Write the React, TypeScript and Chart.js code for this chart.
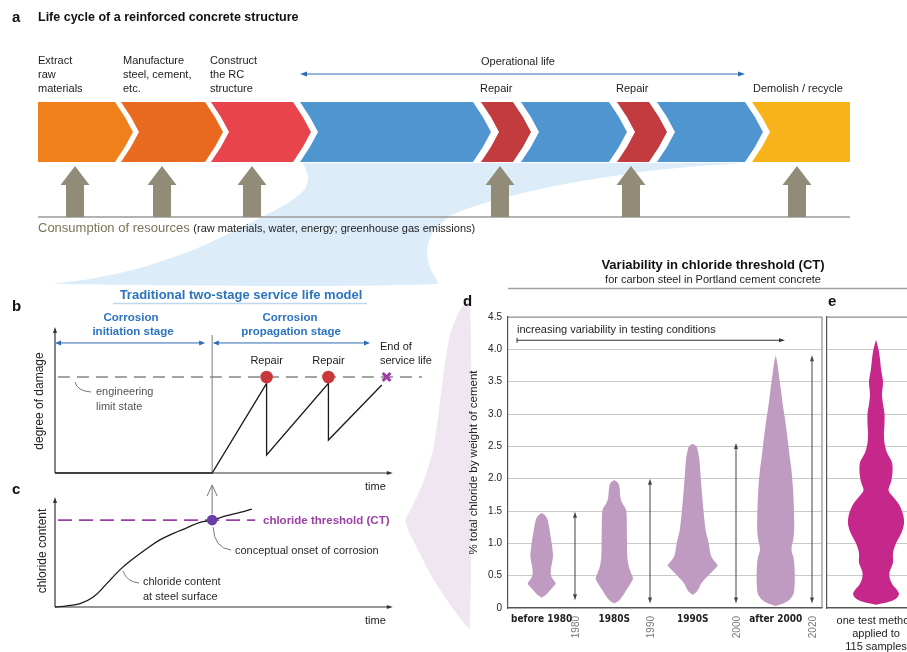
import React, { useEffect, useRef } from "react";
import { Chart, registerables } from "chart.js";

Chart.register(...registerables);

// ======================= DATA =======================
// Panel a – life-cycle stages along the life-cycle axis
const stageStart = [0, 83, 173, 262, 443, 483, 579, 619, 714];
const stageEnd = [77, 167, 255, 435, 475, 571, 611, 707, 812];
const stageColors = ["#f0801a", "#e9691f", "#e8444b", "#4f96d1", "#c23b3e", "#4f96d1", "#c23b3e", "#4f96d1", "#f8b31a"];
const resourceArrowAt = [37, 124, 214, 462, 593, 759];
const operationalLife = [262, 707];

// Panel b – two-stage service-life model
const damageTime = [0, 4.27, 5.75, 5.75, 7.43, 7.43, 8.88];
const damageLevel = [0, 0, 0.623, 0.125, 0.623, 0.229, 0.611];
const limitState = 0.667;
const repairTimes = [5.75, 7.43];
const endOfLife = 9.01;
const initiationEnd = 4.27;

// Panel c – chloride content at steel surface
const chlorideTime = [0, 0.32, 0.68, 1.04, 1.4, 1.77, 2.13, 2.49, 2.85, 3.22, 3.58, 3.94, 4.27, 4.67, 5.03, 5.35];
const chlorideLevel = [0, 0.01, 0.03, 0.09, 0.21, 0.34, 0.44, 0.53, 0.61, 0.67, 0.72, 0.77, 0.79, 0.83, 0.86, 0.89];
const chlorideThreshold = 0.79;

// Panel d – violins of chloride threshold by period
const periods = ["before 1980", "1980S", "1990S", "after 2000"];
const periodCenter = [3.37, 10.63, 18.47, 26.77];
const yearLabels = ["1980", "1990", "2000", "2020"];
const yearAt = [6.7, 14.2, 22.8, 30.4];
const rangeMax = [1.49, 2.0, 2.55, 3.91];
const rangeMin = [0.12, 0.07, 0.07, 0.07];

const v1980Levels = [0.16, 0.2, 0.26, 0.33, 0.38, 0.43, 0.5, 0.6, 0.8, 1.0, 1.1, 1.26, 1.38, 1.44, 1.47];
const v1980Widths = [0, 0.4, 0.75, 1.15, 1.4, 1.2, 0.93, 0.92, 1.13, 1.0, 0.9, 0.73, 0.55, 0.3, 0];
const v1980sLevels = [0.07, 0.12, 0.2, 0.3, 0.4, 0.46, 0.53, 0.64, 0.8, 1.05, 1.3, 1.5, 1.56, 1.62, 1.7, 1.85, 1.93, 1.98];
const v1980sWidths = [0, 0.5, 0.9, 1.3, 1.7, 1.87, 1.7, 1.45, 1.3, 1.27, 1.25, 1.2, 1.05, 0.8, 0.62, 0.53, 0.4, 0];
const v1990sLevels = [0.2, 0.25, 0.3, 0.39, 0.46, 0.54, 0.62, 0.66, 0.72, 0.8, 0.9, 1.0, 1.1, 1.2, 1.47, 1.88, 2.29, 2.44, 2.5, 2.54];
const v1990sWidths = [0, 0.4, 0.6, 0.9, 1.3, 1.8, 2.3, 2.5, 2.2, 1.85, 1.7, 1.6, 1.45, 1.3, 1.1, 0.87, 0.67, 0.5, 0.35, 0];
const v2000Levels = [0.03, 0.08, 0.14, 0.23, 0.4, 0.55, 0.7, 0.8, 0.87, 0.95, 1.05, 1.2, 1.5, 1.8, 2.1, 2.4, 2.6, 2.9, 3.1, 3.4, 3.63, 3.8, 3.91];
const v2000Widths = [0, 0.9, 1.45, 1.8, 1.9, 1.9, 1.85, 1.75, 1.6, 1.6, 1.75, 1.85, 1.83, 1.75, 1.6, 1.35, 1.2, 0.95, 0.75, 0.5, 0.3, 0.15, 0];

// Panel e – one test method, 115 samples
const oneMethodCenter = 4.9;
const oneMethodLevels = [0.05, 0.1, 0.16, 0.22, 0.28, 0.35, 0.45, 0.55, 0.7, 0.85, 1.0, 1.15, 1.3, 1.45, 1.6, 1.72, 1.82, 1.95, 2.1, 2.25, 2.4, 2.55, 2.7, 2.85, 3.0, 3.15, 3.3, 3.5, 3.7, 3.85, 4.0, 4.15];
const oneMethodWidths = [0, 1.4, 2.1, 2.3, 2.1, 1.7, 1.4, 1.35, 1.7, 1.7, 2.0, 2.5, 2.8, 2.7, 2.3, 1.7, 1.25, 1.5, 1.65, 1.6, 1.1, 0.85, 0.8, 0.85, 0.85, 0.7, 0.6, 0.7, 0.5, 0.4, 0.25, 0];

// ======================= LAYOUT / STYLE =======================
const W = 907;
const H = 652;
const FONT = '"Liberation Sans", Arial, Helvetica, sans-serif';
const NARROW = '"Liberation Sans Narrow", "DejaVu Sans Condensed", "Liberation Sans", sans-serif';
const BLUE = "#2c74c0";
const PURPLE = "#9b3fa6";

type Pt = { x: number; y: number };

function txt(
  ctx: CanvasRenderingContext2D,
  s: string,
  x: number,
  y: number,
  o: { size?: number; bold?: boolean; color?: string; align?: CanvasTextAlign; font?: string; rotate?: number } = {}
) {
  ctx.save();
  ctx.font = `${o.bold ? "bold " : ""}${o.size ?? 11}px ${o.font ?? FONT}`;
  ctx.fillStyle = o.color ?? "#222";
  ctx.textAlign = o.align ?? "left";
  ctx.textBaseline = "middle";
  ctx.translate(x, y);
  if (o.rotate) ctx.rotate(o.rotate);
  ctx.fillText(s, 0, 0);
  ctx.restore();
}

function seg(ctx: CanvasRenderingContext2D, x1: number, y1: number, x2: number, y2: number, color: string, w = 1) {
  ctx.save();
  ctx.strokeStyle = color;
  ctx.lineWidth = w;
  ctx.beginPath();
  ctx.moveTo(x1, y1);
  ctx.lineTo(x2, y2);
  ctx.stroke();
  ctx.restore();
}

function head(ctx: CanvasRenderingContext2D, x: number, y: number, ang: number, color: string, len = 6, half = 2.5) {
  ctx.save();
  ctx.translate(x, y);
  ctx.rotate(ang);
  ctx.beginPath();
  ctx.moveTo(0, 0);
  ctx.lineTo(-len, -half);
  ctx.lineTo(-len, half);
  ctx.closePath();
  ctx.fillStyle = color;
  ctx.fill();
  ctx.restore();
}

function leader(ctx: CanvasRenderingContext2D, x1: number, y1: number, cx: number, cy: number, x2: number, y2: number) {
  ctx.save();
  ctx.strokeStyle = "#777";
  ctx.lineWidth = 1;
  ctx.beginPath();
  ctx.moveTo(x1, y1);
  ctx.quadraticCurveTo(cx, cy, x2, y2);
  ctx.stroke();
  ctx.restore();
}

const shape = (pts: Pt[], color: string, extra: any = {}) => ({
  data: pts,
  showLine: true,
  fill: "shape",
  backgroundColor: color,
  borderColor: color,
  borderWidth: 0,
  pointRadius: 0,
  tension: 0,
  ...extra,
});

const hidden = (min: number, max: number, reverse = false) => ({ type: "linear", min, max, reverse, display: false });

function baseOptions(padding: any, scales: any) {
  return {
    responsive: false,
    animation: false,
    devicePixelRatio: 1,
    events: [],
    layout: { padding },
    plugins: { legend: { display: false }, tooltip: { enabled: false }, title: { display: false } },
    scales,
  };
}

function violin(center: number, levels: number[], widths: number[]): Pt[] {
  const right = levels.map((y, i) => ({ x: center + widths[i], y }));
  const left = levels.map((y, i) => ({ x: center - widths[i], y })).reverse();
  return [...right, ...left];
}

// ======================= CHART CONFIGS =======================
function fanConfig() {
  const blueFan: Pt[] = [
    { x: 303, y: 163 }, { x: 308, y: 176 }, { x: 305, y: 189 }, { x: 288, y: 203 }, { x: 252, y: 222 },
    { x: 198, y: 248 }, { x: 140, y: 268 }, { x: 90, y: 279 }, { x: 55, y: 284 }, { x: 437, y: 284 },
    { x: 430, y: 268 }, { x: 427, y: 250 }, { x: 433, y: 232 }, { x: 452, y: 215 }, { x: 495, y: 200 },
    { x: 560, y: 185 }, { x: 640, y: 172 }, { x: 700, y: 166 }, { x: 745, y: 163 },
  ];
  const lavFan: Pt[] = [
    { x: 405, y: 520 }, { x: 413, y: 505 }, { x: 424, y: 480 }, { x: 433, y: 450 }, { x: 439, y: 410 },
    { x: 444, y: 370 }, { x: 450, y: 335 }, { x: 460, y: 310 }, { x: 470, y: 298 }, { x: 470, y: 628 },
    { x: 460, y: 618 }, { x: 447, y: 600 }, { x: 432, y: 577 }, { x: 418, y: 550 }, { x: 409, y: 532 },
  ];
  return {
    type: "scatter",
    data: { datasets: [shape(blueFan, "#dcecf8", { tension: 0.25 }), shape(lavFan, "#efe6f1", { tension: 0.25 })] },
    options: baseOptions(0, { x: hidden(0, W), y: hidden(0, H, true) }),
  };
}

function lifeCycleConfig() {
  const TOP = 115, BOT = 55, MID = 85, D = 18, B = 0.55;
  const datasets: any[] = stageStart.map((L, i) => {
    const R = stageEnd[i];
    const last = i === stageStart.length - 1;
    const pts: Pt[] = [{ x: L, y: TOP }, { x: R, y: TOP }];
    if (!last) pts.push({ x: R + D * B, y: 100 }, { x: R + D, y: MID }, { x: R + D * B, y: 70 });
    pts.push({ x: R, y: BOT }, { x: L, y: BOT });
    if (i > 0) pts.push({ x: L + D * B, y: 70 }, { x: L + D, y: MID }, { x: L + D * B, y: 100 });
    return shape(pts, stageColors[i]);
  });
  resourceArrowAt.forEach((c) => {
    datasets.push(
      shape(
        [
          { x: c, y: 51 }, { x: c + 14.5, y: 32 }, { x: c + 9, y: 32 }, { x: c + 9, y: 0 },
          { x: c - 9, y: 0 }, { x: c - 9, y: 32 }, { x: c - 14.5, y: 32 },
        ],
        "#928b77"
      )
    );
  });
  datasets.push({
    data: [{ x: 0, y: 0 }, { x: 812, y: 0 }],
    showLine: true, borderColor: "#9a9a9a", borderWidth: 1.6, pointRadius: 0, clip: false,
  });
  return {
    type: "scatter",
    data: { datasets },
    options: baseOptions({ left: 38, right: W - 850, top: 102, bottom: H - 217 }, { x: hidden(0, 812), y: hidden(0, 115) }),
    plugins: [
      {
        id: "annotA",
        afterDraw(chart: any) {
          const { ctx } = chart;
          const x = chart.scales.x;
          txt(ctx, "a", 12, 18, { size: 15, bold: true, color: "#111" });
          txt(ctx, "Life cycle of a reinforced concrete structure", 38, 18, { size: 12.5, bold: true, color: "#111" });
          const lab = (lines: string[], px: number) =>
            lines.forEach((l, k) => txt(ctx, l, px, 61 + k * 14, { size: 11, color: "#1c1c1c" }));
          lab(["Extract", "raw", "materials"], 38);
          lab(["Manufacture", "steel, cement,", "etc."], 123);
          lab(["Construct", "the RC", "structure"], 210);
          txt(ctx, "Operational life", 481, 62, { size: 11, color: "#1c1c1c" });
          txt(ctx, "Repair", 480, 89, { size: 11, color: "#1c1c1c" });
          txt(ctx, "Repair", 616, 89, { size: 11, color: "#1c1c1c" });
          txt(ctx, "Demolish / recycle", 753, 89, { size: 11, color: "#1c1c1c" });
          const x1 = x.getPixelForValue(operationalLife[0]);
          const x2 = x.getPixelForValue(operationalLife[1]);
          seg(ctx, x1 + 3, 74, x2 - 3, 74, "#2e6cb4", 1);
          head(ctx, x1, 74, Math.PI, "#2e6cb4", 7, 2.5);
          head(ctx, x2, 74, 0, "#2e6cb4", 7, 2.5);
          ctx.save();
          ctx.font = `13px ${FONT}`;
          const w1 = ctx.measureText("Consumption of resources ").width;
          ctx.restore();
          txt(ctx, "Consumption of resources", 38, 228, { size: 13, color: "#7a7357" });
          txt(ctx, "(raw materials, water, energy; greenhouse gas emissions)", 38 + w1, 229, { size: 11, color: "#1c1c1c" });
        },
      },
    ],
  };
}

function panelBConfig() {
  const TIME_AXIS_END = 9.18;
  return {
    type: "scatter",
    data: {
      datasets: [
        { data: repairTimes.map((t) => ({ x: t, y: limitState })), pointRadius: 6.3, pointBackgroundColor: "#c9383a", pointBorderWidth: 0, showLine: false, order: 0 },
        { data: [{ x: endOfLife, y: limitState }], pointStyle: "crossRot", pointRadius: 5.5, pointBorderColor: PURPLE, pointBorderWidth: 3, showLine: false, order: 0 },
        { data: damageTime.map((t, i) => ({ x: t, y: damageLevel[i] })), showLine: true, borderColor: "#1a1a1a", borderWidth: 1.3, pointRadius: 0, tension: 0, order: 1, clip: false },
        { data: [{ x: 0.08, y: limitState }, { x: 9.97, y: limitState }], showLine: true, borderColor: "#858585", borderWidth: 1.5, borderDash: [12, 7], pointRadius: 0, order: 2, clip: false },
        { data: [{ x: initiationEnd, y: 0 }, { x: initiationEnd, y: 0.958 }], showLine: true, borderColor: "#7a7a7a", borderWidth: 1, pointRadius: 0, order: 2 },
      ],
    },
    options: baseOptions({ left: 55, right: W - 423, top: 329, bottom: H - 473 }, { x: hidden(0, 10), y: hidden(0, 1) }),
    plugins: [
      {
        id: "annotB",
        afterDraw(chart: any) {
          const { ctx } = chart;
          const { x, y } = chart.scales;
          const x0 = x.getPixelForValue(0), y0 = y.getPixelForValue(0);
          // axes
          seg(ctx, x0, y0, x0, y.getPixelForValue(1) + 4, "#333", 1.2);
          head(ctx, x0, y.getPixelForValue(1) - 2, -Math.PI / 2, "#333", 6, 2);
          const xe = x.getPixelForValue(TIME_AXIS_END);
          seg(ctx, x0, y0, xe - 4, y0, "#333", 1.2);
          head(ctx, xe, y0, 0, "#333", 6, 2);
          txt(ctx, "time", 365, 487, { size: 11, color: "#222" });
          txt(ctx, "degree of damage", 40, 401, { size: 12, color: "#222", align: "center", rotate: -Math.PI / 2 });
          // headings
          txt(ctx, "Traditional two-stage service life model", 241, 295, { size: 13, bold: true, color: BLUE, align: "center" });
          seg(ctx, 113, 303.5, 367, 303.5, "#bcd7ee", 1.5);
          txt(ctx, "b", 12, 307, { size: 15, bold: true, color: "#111" });
          txt(ctx, "Corrosion", 131, 318, { size: 11.5, bold: true, color: BLUE, align: "center" });
          txt(ctx, "initiation stage", 133, 332, { size: 11.5, bold: true, color: BLUE, align: "center" });
          txt(ctx, "Corrosion", 290, 318, { size: 11.5, bold: true, color: BLUE, align: "center" });
          txt(ctx, "propagation stage", 291, 332, { size: 11.5, bold: true, color: BLUE, align: "center" });
          // stage arrows
          const ay = y.getPixelForValue(0.903);
          const stages = [[0, 4.08], [4.29, 8.56]];
          stages.forEach(([a, b]) => {
            const p1 = x.getPixelForValue(a), p2 = x.getPixelForValue(b);
            seg(ctx, p1 + 3, ay, p2 - 3, ay, "#2e6cb4", 1);
            head(ctx, p1, ay, Math.PI, "#2e6cb4", 6, 2.5);
            head(ctx, p2, ay, 0, "#2e6cb4", 6, 2.5);
          });
          // labels
          repairTimes.forEach((t) => txt(ctx, "Repair", x.getPixelForValue(t), 361, { size: 11, color: "#1c1c1c", align: "center" }));
          txt(ctx, "End of", 380, 347, { size: 11, color: "#1c1c1c" });
          txt(ctx, "service life", 380, 361, { size: 11, color: "#1c1c1c" });
          txt(ctx, "engineering", 96, 392, { size: 11, color: "#555" });
          txt(ctx, "limit state", 96, 407, { size: 11, color: "#555" });
          leader(ctx, 75, 382, 77, 391, 91, 392);
        },
      },
    ],
  };
}

function panelCConfig() {
  const TIME_AXIS_END = 9.18;
  return {
    type: "scatter",
    data: {
      datasets: [
        { data: [{ x: initiationEnd, y: chlorideThreshold }], pointRadius: 5.3, pointBackgroundColor: "#6a3ea6", pointBorderWidth: 0, showLine: false, order: 0 },
        { data: chlorideTime.map((t, i) => ({ x: t, y: chlorideLevel[i] })), showLine: true, borderColor: "#1a1a1a", borderWidth: 1.3, pointRadius: 0, tension: 0.4, order: 1, clip: false },
        { data: [{ x: 0.08, y: chlorideThreshold }, { x: 5.44, y: chlorideThreshold }], showLine: true, borderColor: PURPLE, borderWidth: 1.8, borderDash: [14, 7], pointRadius: 0, order: 2, clip: false },
      ],
    },
    options: baseOptions({ left: 55, right: W - 423, top: 497, bottom: H - 607 }, { x: hidden(0, 10), y: hidden(0, 1) }),
    plugins: [
      {
        id: "annotC",
        afterDraw(chart: any) {
          const { ctx } = chart;
          const { x, y } = chart.scales;
          const x0 = x.getPixelForValue(0), y0 = y.getPixelForValue(0);
          seg(ctx, x0, y0, x0, y.getPixelForValue(1) + 4, "#333", 1.2);
          head(ctx, x0, y.getPixelForValue(1), -Math.PI / 2, "#333", 6, 2);
          const xe = x.getPixelForValue(TIME_AXIS_END);
          seg(ctx, x0, y0, xe - 4, y0, "#333", 1.2);
          head(ctx, xe, y0, 0, "#333", 6, 2);
          txt(ctx, "time", 365, 621, { size: 11, color: "#222" });
          txt(ctx, "c", 12, 490, { size: 15, bold: true, color: "#111" });
          txt(ctx, "chloride content", 43, 551, { size: 12, color: "#222", align: "center", rotate: -Math.PI / 2 });
          txt(ctx, "chloride threshold (CT)", 263, 521, { size: 11.5, bold: true, color: PURPLE });
          txt(ctx, "conceptual onset of corrosion", 235, 551, { size: 11, color: "#2a2a2a" });
          txt(ctx, "chloride content", 143, 582, { size: 11, color: "#2a2a2a" });
          txt(ctx, "at steel surface", 143, 597, { size: 11, color: "#2a2a2a" });
          const px = x.getPixelForValue(initiationEnd);
          const py = y.getPixelForValue(chlorideThreshold);
          leader(ctx, px + 1, py + 7, px + 2, py + 28, px + 19, py + 30);
          leader(ctx, 123, 571, 127, 582, 139, 583);
          // arrow from onset up to damage panel
          seg(ctx, px, py - 6, px, 486, "#777", 1);
          ctx.save();
          ctx.strokeStyle = "#777";
          ctx.lineWidth = 1;
          ctx.beginPath();
          ctx.moveTo(px - 5, 496);
          ctx.lineTo(px, 485);
          ctx.lineTo(px + 5, 496);
          ctx.stroke();
          ctx.restore();
        },
      },
    ],
  };
}

function panelDConfig() {
  const violinColor = "#c09bc1";
  const all = [
    [v1980Levels, v1980Widths],
    [v1980sLevels, v1980sWidths],
    [v1990sLevels, v1990sWidths],
    [v2000Levels, v2000Widths],
  ];
  const datasets = all.map(([lv, wd], i) => shape(violin(periodCenter[i], lv, wd), violinColor, { tension: 0.3 }));
  return {
    type: "scatter",
    data: { datasets },
    options: baseOptions(
      { left: 455, right: W - 822, top: 317, bottom: H - 608 },
      {
        x: {
          type: "linear", min: 0, max: 31.4,
          ticks: { display: false }, grid: { display: false, drawTicks: false },
          border: { display: true, color: "#555", width: 1.2 },
          afterFit: (s: any) => { s.height = 0; },
        },
        y: {
          type: "linear", min: 0, max: 4.5,
          ticks: {
            stepSize: 0.5, padding: 6, color: "#222", font: { family: FONT, size: 10 },
            callback: (v: any) => (Number(v) === 0 ? "0" : Number(v).toFixed(1)),
          },
          grid: { color: "#c9c9c9", lineWidth: 1, drawTicks: false },
          border: { display: true, color: "#555", width: 1.2 },
          title: { display: true, text: "% total chloride by weight of cement", color: "#222", font: { family: FONT, size: 11.5 }, padding: { top: 12, bottom: 0 } },
          afterFit: (s: any) => { s.width = 53; },
        },
      }
    ),
    plugins: [
      {
        id: "annotD",
        afterDraw(chart: any) {
          const { ctx, chartArea: a } = chart;
          const { x, y } = chart.scales;
          seg(ctx, a.left, a.top, a.right, a.top, "#8a8a8a", 1.2);
          seg(ctx, a.right, a.top, a.right, a.bottom, "#8a8a8a", 1.2);
          txt(ctx, "Variability in chloride threshold (CT)", 713, 265, { size: 13, bold: true, color: "#111", align: "center" });
          txt(ctx, "for carbon steel in Portland cement concrete", 713, 280, { size: 11, color: "#222", align: "center" });
          seg(ctx, 508, 288.5, 907, 288.5, "#a0a0a0", 1.5);
          txt(ctx, "d", 463, 302, { size: 15, bold: true, color: "#111" });
          txt(ctx, "e", 828, 302, { size: 15, bold: true, color: "#111" });
          // increasing variability arrow
          txt(ctx, "increasing variability in testing conditions", 517, 330, { size: 11, color: "#222" });
          const ay = y.getPixelForValue(4.14);
          const ax1 = x.getPixelForValue(0.9), ax2 = x.getPixelForValue(27.7);
          seg(ctx, ax1, ay, ax2 - 4, ay, "#333", 1);
          seg(ctx, ax1, ay - 2.5, ax1, ay + 2.5, "#333", 1);
          head(ctx, ax2, ay, 0, "#333", 6, 2);
          // range arrows and year labels
          yearAt.forEach((v, i) => {
            const px = x.getPixelForValue(v);
            const t = y.getPixelForValue(rangeMax[i]);
            const b = y.getPixelForValue(rangeMin[i]);
            seg(ctx, px, t + 4, px, b - 4, "#444", 1);
            head(ctx, px, t, -Math.PI / 2, "#444", 6, 2);
            head(ctx, px, b, Math.PI / 2, "#444", 6, 2);
            txt(ctx, yearLabels[i], px + 1, 616, { size: 10, color: "#777", align: "right", rotate: -Math.PI / 2 });
          });
          periods.forEach((p, i) => {
            txt(ctx, p, x.getPixelForValue(periodCenter[i]), 619, { size: 10, bold: true, color: "#222", align: "center", font: NARROW });
          });
        },
      },
    ],
  };
}

function panelEConfig() {
  return {
    type: "scatter",
    data: { datasets: [shape(violin(oneMethodCenter, oneMethodLevels, oneMethodWidths), "#c6278b", { tension: 0.3 })] },
    options: baseOptions(
      { left: 827, right: 0, top: 317, bottom: H - 608 },
      {
        x: {
          type: "linear", min: 0, max: 8,
          ticks: { display: false }, grid: { display: false, drawTicks: false },
          border: { display: true, color: "#555", width: 1.2 },
          afterFit: (s: any) => { s.height = 0; },
        },
        y: {
          type: "linear", min: 0, max: 4.5,
          ticks: { display: false, stepSize: 0.5 },
          grid: { color: "#c9c9c9", lineWidth: 1, drawTicks: false },
          border: { display: true, color: "#555", width: 1.2 },
          afterFit: (s: any) => { s.width = 0; },
        },
      }
    ),
    plugins: [
      {
        id: "annotE",
        afterDraw(chart: any) {
          const { ctx, chartArea: a } = chart;
          const { x } = chart.scales;
          seg(ctx, a.left, a.top, a.right, a.top, "#8a8a8a", 1.2);
          const cx = x.getPixelForValue(oneMethodCenter);
          txt(ctx, "one test method", cx, 621, { size: 11, color: "#1c1c1c", align: "center" });
          txt(ctx, "applied to", cx, 634, { size: 11, color: "#1c1c1c", align: "center" });
          txt(ctx, "115 samples", cx, 647, { size: 11, color: "#1c1c1c", align: "center" });
        },
      },
    ],
  };
}

// ======================= COMPONENTS =======================
function ChartLayer({ config }: { config: () => any }) {
  const ref = useRef<HTMLCanvasElement>(null);
  useEffect(() => {
    if (!ref.current) return;
    const chart = new Chart(ref.current, config());
    return () => chart.destroy();
  }, [config]);
  return (
    <canvas
      ref={ref}
      width={W}
      height={H}
      style={{ position: "absolute", left: 0, top: 0, width: W, height: H }}
    />
  );
}

export default function App() {
  return (
    <div style={{ position: "absolute", left: 0, top: 0, width: W, height: H, background: "#fff", overflow: "hidden" }}>
      <ChartLayer config={fanConfig} />
      <ChartLayer config={lifeCycleConfig} />
      <ChartLayer config={panelBConfig} />
      <ChartLayer config={panelCConfig} />
      <ChartLayer config={panelDConfig} />
      <ChartLayer config={panelEConfig} />
    </div>
  );
}
